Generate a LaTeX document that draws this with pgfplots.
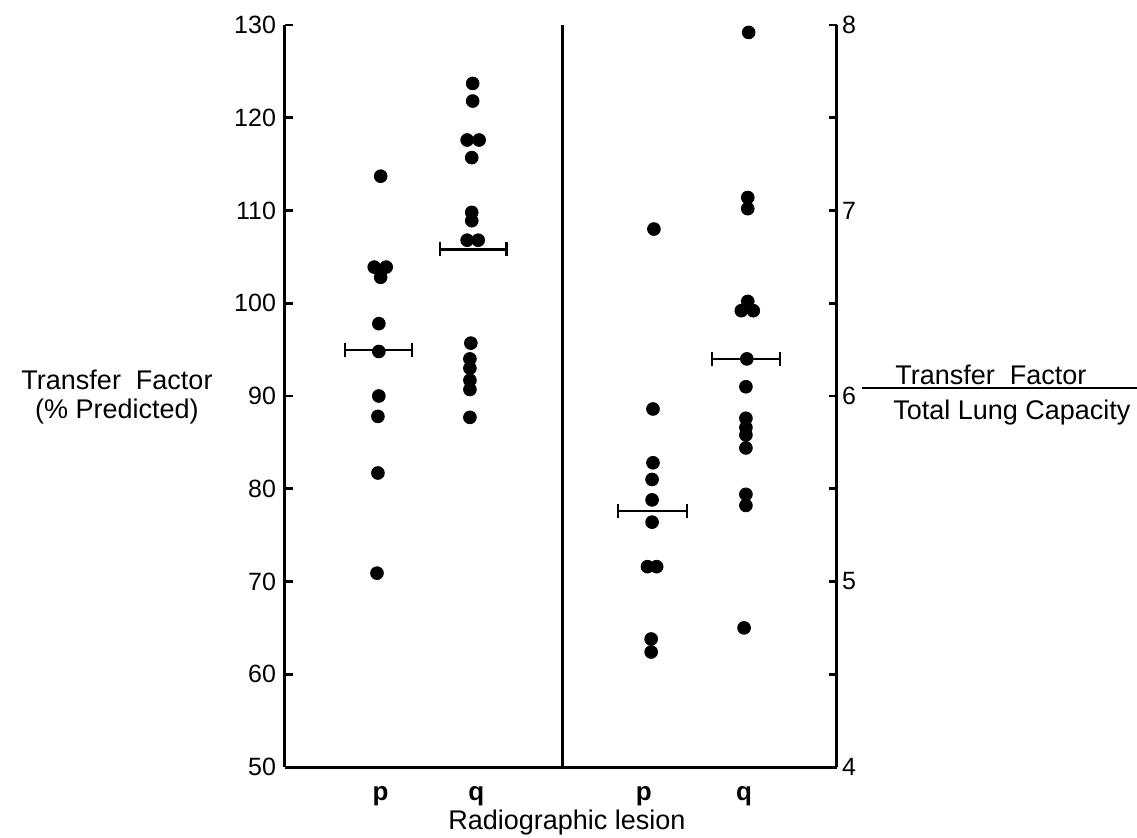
\documentclass[border=0pt]{standalone}
\usepackage{fontspec}
\setmainfont{Liberation Sans}
\usepackage{pgfplots}
\pgfplotsset{compat=1.18}
\usetikzlibrary{arrows.meta}

\pgfplotsset{
    lesionaxis/.style={
        at={(0pt,0pt)}, anchor=south west,
        scale only axis, width=276pt, height=371pt,
        xmin=0, xmax=6,
        clip=false,
        tick align=inside,
        major tick length=4pt, minor tick length=4pt,
        every tick/.style={black, line width=1.4pt},
        axis line style={-, line width=1.5pt},
        tick label style={font=\fontsize{12.5}{14}\selectfont},
        /pgf/number format/assume math mode=true,
    },
    dots/.style={only marks, mark=*, mark size=3.2pt, black},
    meanbar/.style={black, line width=1.1pt, {Bar[width=7pt]}-{Bar[width=7pt]}},
}

\begin{document}
\begin{tikzpicture}
\path[use as bounding box] (-142.5pt,-35pt) rectangle (426pt,383.5pt);

% left scale: transfer factor, % predicted
\begin{axis}[
    lesionaxis,
    ymin=50, ymax=130,
    axis y line*=left, axis x line*=bottom,
    ytick={50,60,...,130},
    yticklabel style={xshift=-1pt},
    xtick={1.04,2.08,3.9,4.99}, xticklabels={p,q,p,q},
    xticklabel style={font=\fontsize{13}{14}\selectfont\bfseries, yshift=-6pt},
    x tick style={draw=none},
]
\addplot[dots] coordinates {
    (1.04,113.7) (0.97,103.9) (1.10,103.9) (1.04,102.8) (1.02,97.8)
    (1.02,94.8) (1.02,90.0) (1.01,87.8) (1.01,81.7) (1.00,70.9)
};
\addplot[dots] coordinates {
    (2.04,123.7) (2.04,121.8) (1.98,117.6) (2.11,117.6) (2.03,115.7)
    (2.03,109.8) (2.03,108.9) (1.98,106.8) (2.10,106.8) (2.02,95.7)
    (2.01,94.0) (2.01,93.0) (2.01,91.7) (2.01,90.7) (2.01,87.7)
};
\addplot[meanbar] coordinates {(0.64,95) (1.39,95)};
\addplot[meanbar] coordinates {(1.67,105.8) (2.42,105.8)};
\draw[line width=1.5pt] (axis cs:3.02,50) -- (axis cs:3.02,130);
\end{axis}

% right scale: transfer factor / total lung capacity
\begin{axis}[
    lesionaxis,
    ymin=4, ymax=8,
    axis y line*=right, axis x line=none,
    ytick={4,5,6,7,8},
    minor ytick={4.5,5.5,6.5,7.5},
    yticklabel style={xshift=-1pt},
]
\addplot[dots] coordinates {
    (4.01,6.90) (4.00,5.93) (4.00,5.64) (3.99,5.55) (3.99,5.44)
    (3.99,5.32) (3.94,5.08) (4.04,5.08) (3.98,4.69) (3.98,4.62)
};
\addplot[dots] coordinates {
    (5.04,7.96) (5.03,7.07) (5.03,7.01) (5.03,6.51) (4.96,6.46)
    (5.09,6.46) (5.02,6.20) (5.01,6.05) (5.01,5.88) (5.01,5.83)
    (5.01,5.79) (5.01,5.72) (5.01,5.47) (5.01,5.41) (4.99,4.75)
};
\addplot[meanbar] coordinates {(3.61,5.38) (4.38,5.38)};
\addplot[meanbar] coordinates {(4.63,6.20) (5.39,6.20)};
\end{axis}

\begin{scope}[font=\fontsize{13.5}{14.5}\selectfont]
\node[align=center] at (-84pt,185pt) {Transfer\ \ Factor\\(\%\ Predicted)};
\node[anchor=west, inner sep=0pt] at (305pt,196pt) {Transfer\ \ Factor};
\node[anchor=west, inner sep=0pt] at (304pt,177pt) {Total Lung Capacity};
\draw[line width=0.9pt] (288.5pt,189.5pt) -- (426pt,189.5pt);
\node[anchor=base, inner sep=0pt] at (141pt,-31pt) {Radiographic lesion};
\end{scope}
\end{tikzpicture}
\end{document}
